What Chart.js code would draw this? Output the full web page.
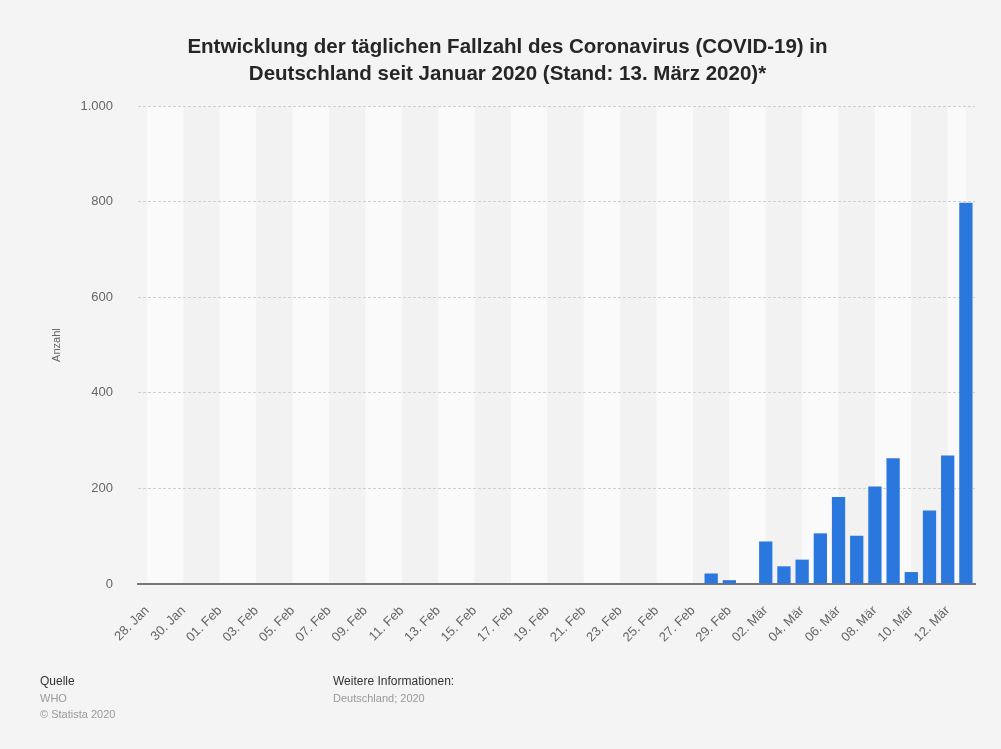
<!DOCTYPE html>
<html>
<head>
<meta charset="utf-8">
<script src="https://cdn.jsdelivr.net/npm/chart.js@4"></script>
<style>
  html, body { margin: 0; padding: 0; background: #f4f4f4; }
  #wrap { position: relative; width: 1001px; height: 749px; font-family: "Liberation Sans", Arial, sans-serif; }
  #c { position: absolute; left: 0; top: 0; }
  .foot { position: absolute; font-size: 11px; line-height: 16.5px; color: #999; }
  .foot b { font-weight: normal; color: #333; font-size: 12px; }
</style>
</head>
<body>
<div id="wrap">
  <canvas id="c" width="1001" height="749"></canvas>
  <div class="foot" style="left:40px; top:673px;"><b>Quelle</b><br>WHO<br>© Statista 2020</div>
  <div class="foot" style="left:333px; top:673px;"><b>Weitere Informationen:</b><br>Deutschland; 2020</div>
</div>
<script>
const titleLines = ['Entwicklung der täglichen Fallzahl des Coronavirus (COVID-19) in', 'Deutschland seit Januar 2020 (Stand: 13. März 2020)*'];
const yAxisTitle = 'Anzahl';
const categories = [
  '28. Jan', '29. Jan', '30. Jan', '31. Jan',
  '01. Feb', '02. Feb', '03. Feb', '04. Feb', '05. Feb', '06. Feb', '07. Feb', '08. Feb', '09. Feb', '10. Feb',
  '11. Feb', '12. Feb', '13. Feb', '14. Feb', '15. Feb', '16. Feb', '17. Feb', '18. Feb', '19. Feb', '20. Feb',
  '21. Feb', '22. Feb', '23. Feb', '24. Feb', '25. Feb', '26. Feb', '27. Feb', '28. Feb', '29. Feb',
  '01. Mär', '02. Mär', '03. Mär', '04. Mär', '05. Mär', '06. Mär', '07. Mär', '08. Mär', '09. Mär', '10. Mär',
  '11. Mär', '12. Mär', '13. Mär'
];
const cases = [
  0, 0, 0, 0,
  0, 0, 0, 0, 0, 0, 0, 0, 0, 0,
  0, 0, 0, 0, 0, 0, 0, 0, 0, 0,
  0, 0, 0, 0, 0, 0, 0, 22, 8,
  0, 89, 37, 51, 106, 182, 101, 204, 263, 25,
  154, 269, 798
];
const yTicks = [0, 200, 400, 600, 800, 1000];

const stripes = {
  id: 'stripes',
  beforeDraw(chart) {
    const {ctx, chartArea} = chart;
    const x = chart.scales.x;
    const n = categories.length;
    ctx.save();
    for (let i = 0; i < n - 1; i += 2) {
      const x0 = x.getPixelForValue(i);
      const x1 = x.getPixelForValue(Math.min(i + 2, n - 1));
      ctx.fillStyle = (i / 2) % 2 === 0 ? '#fafafa' : '#f2f2f2';
      ctx.fillRect(x0, chartArea.top, x1 - x0, chartArea.bottom - chartArea.top);
    }
    ctx.restore();
  }
};

new Chart(document.getElementById('c'), {
  type: 'bar',
  data: {
    labels: categories,
    datasets: [{
      data: cases,
      backgroundColor: '#2a77dd',
      borderWidth: 0,
      barPercentage: 0.73,
      categoryPercentage: 1.0
    }]
  },
  options: {
    responsive: false,
    animation: false,
    devicePixelRatio: 1,
    layout: { padding: { left: 40, right: 26, top: 20, bottom: 95 } },
    plugins: {
      legend: { display: false },
      tooltip: { enabled: false },
      title: {
        display: true,
        text: titleLines,
        color: '#262626',
        font: { family: 'Liberation Sans', size: 20.5, weight: 'bold', lineHeight: 1.32 },
        padding: { top: 14, bottom: 18 }
      }
    },
    scales: {
      x: {
        grid: { display: false, drawTicks: false },
        border: { display: true, color: '#777', width: 2 },
        afterFit(s) { s.height = 70; },
        ticks: {
          autoSkip: false,
          maxRotation: 45,
          minRotation: 45,
          padding: 19,
          color: '#666',
          font: { family: 'Liberation Sans', size: 13 },
          callback(v, i) { return i % 2 === 0 ? categories[i] : ''; }
        }
      },
      y: {
        min: 0,
        max: 1000,
        afterBuildTicks(s) { s.ticks = yTicks.map(v => ({ value: v })); },
        afterFit(s) { s.width = 98; },
        grid: {
          drawTicks: false,
          color(ctx) { return ctx.tick && ctx.tick.value === 0 ? 'rgba(0,0,0,0)' : '#cfcfcf'; },
          lineWidth: 1
        },
        border: { display: false, dash: [3, 2] },
        ticks: {
          padding: 25,
          color: '#666',
          font: { family: 'Liberation Sans', size: 13 },
          callback(v) { return v.toLocaleString('de-DE'); }
        },
        title: {
          display: true,
          text: yAxisTitle,
          color: '#666',
          font: { family: 'Liberation Sans', size: 11 },
          padding: { top: 10, bottom: 0 }
        }
      }
    }
  },
  plugins: [stripes]
});
</script>
</body>
</html>
